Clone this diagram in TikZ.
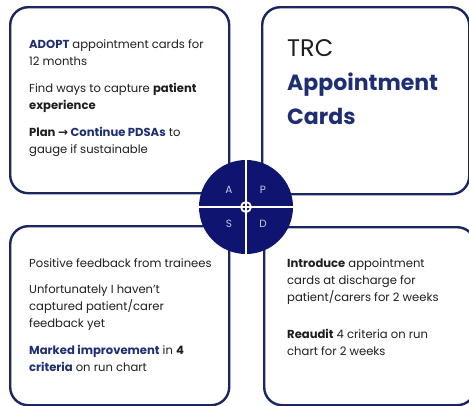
\documentclass[tikz,border=0pt]{standalone}
\usepackage{fontspec}
\setmainfont{Poppins}
\newfontfamily\arrowfont{DejaVu Sans}
\usetikzlibrary{positioning,calc}
\definecolor{navy}{HTML}{1B2660}
\definecolor{pdsafill}{HTML}{0E1470}
\definecolor{ink}{HTML}{1F2E72}
\definecolor{txt}{HTML}{1E1E1E}
\definecolor{lettr}{HTML}{C5C9DE}
\tikzstyle{card} = [draw=navy,line width=2.4pt,rounded corners=18pt,inner sep=0,anchor=north west]
\tikzstyle{cardtext} = [anchor=north west,inner sep=0,align=left,text=txt,font=\fontsize{11.6}{17}\selectfont]
\tikzstyle{quarter} = [text=lettr,inner sep=0,font=\fontsize{10.5}{12}\selectfont]
\def \gap {10pt}

\begin{document}
\begin{tikzpicture}[x=1pt,y=-1pt]
      \clip (0,0) rectangle (469,405);
      % four cards
      \node[card,minimum width=219pt,minimum height=186pt] (act) at (9,6) {};
      \node[card,minimum width=207pt,minimum height=187pt] (plan) at (261,6) {};
      \node[card,minimum width=219pt,minimum height=179pt] (study) at (9,225) {};
      \node[card,minimum width=211pt,minimum height=178pt] (do) at (263,226) {};
      % texts
      \node[cardtext] (acttxt) at ([shift={(20,33)}]act.north west)
        {{\color{ink}\bfseries ADOPT} appointment cards for\\ 12 months\\[\gap]
         Find ways to capture \textbf{patient}\\ \textbf{experience}\\[\gap]
         \textbf{Plan {\arrowfont\large →} {\color{ink}Continue PDSAs}} to\\ gauge if sustainable};
      \node[cardtext,font=\fontsize{22}{34}\selectfont] (plantxt) at ([shift={(26,33)}]plan.north west)
        {{\fontsize{24}{34}\selectfont TRC}\\ {\color{ink}\bfseries Appointment}\\ {\color{ink}\bfseries Cards}};
      \node[cardtext] (studytxt) at ([shift={(20,33)}]study.north west)
        {Positive feedback from trainees\\[9pt]
         Unfortunately I haven't\\ captured patient/carer\\ feedback yet\\[\gap]
         {\color{ink}\bfseries Marked improvement} in \textbf{4}\\ {\color{ink}\bfseries criteria} on run chart};
      \node[cardtext] (dotxt) at ([shift={(24,32)}]do.north west)
        {\textbf{Introduce} appointment\\ cards at discharge for\\ patient/carers for 2 weeks\\[20pt]
         \textbf{Reaudit} 4 criteria on run\\ chart for 2 weeks};
      % PDSA wheel
      \node[circle,fill=pdsafill,minimum size=94pt,inner sep=0] (pdsa) at (246,207) {};
      \draw[white,line width=2.5pt] (pdsa.north) -- (pdsa.south);
      \draw[white,line width=2.5pt] (pdsa.west) -- (pdsa.east);
      \draw[white,line width=1.8pt] (pdsa.center) circle (5pt);
      \node[quarter] (a) at ([shift={(-17,-17)}]pdsa.center) {A};
      \node[quarter] (p) at ([shift={(17,-17)}]pdsa.center) {P};
      \node[quarter] (s) at ([shift={(-17,17)}]pdsa.center) {S};
      \node[quarter] (d) at ([shift={(17,17)}]pdsa.center) {D};
    \end{tikzpicture}
\end{document}
